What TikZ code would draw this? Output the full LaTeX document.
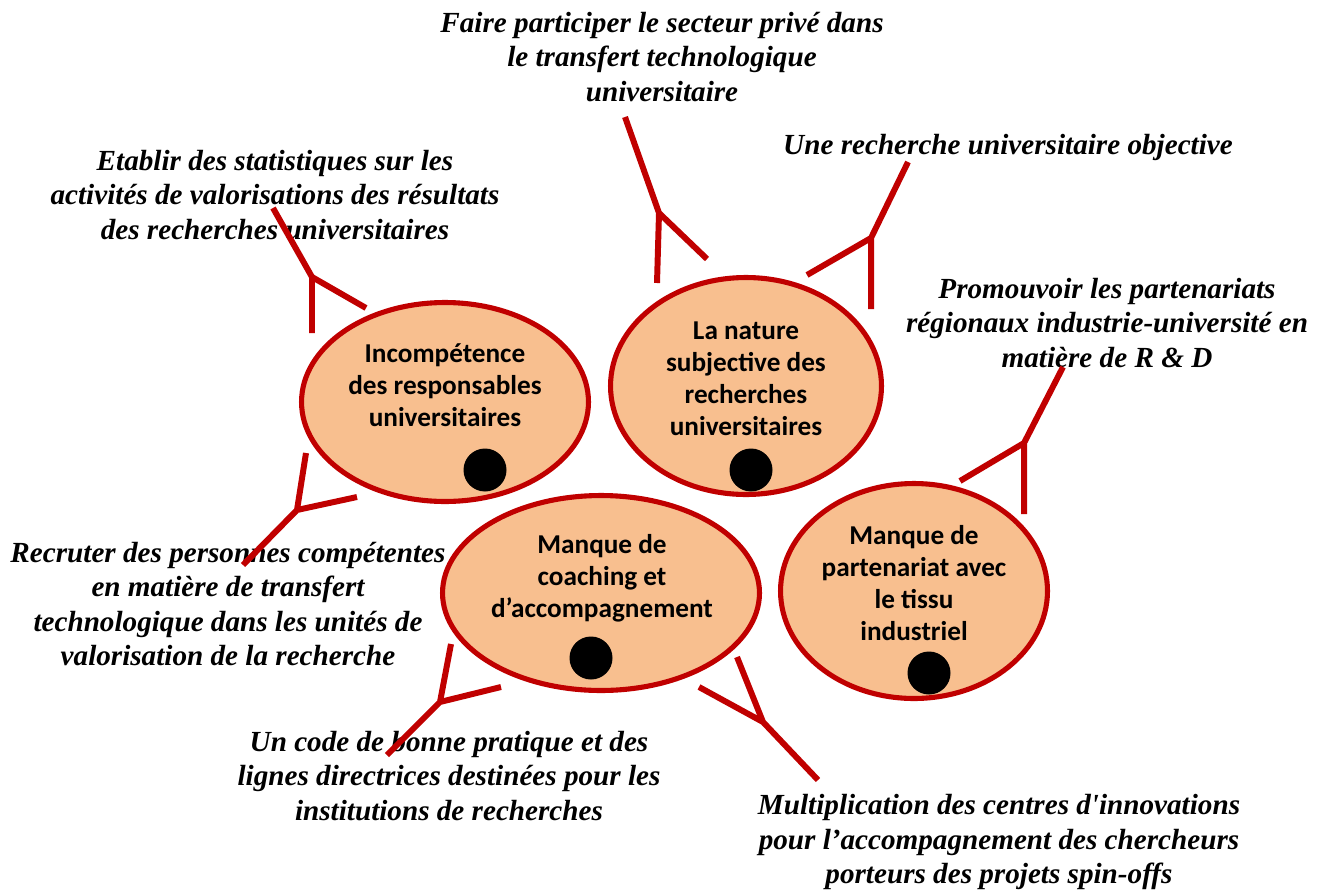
\documentclass[tikz,border=0pt]{standalone}
\usepackage{fontspec}
\setmainfont{Liberation Serif}
\newfontfamily\causefont{Carlito}
\usetikzlibrary{shapes.geometric}
\definecolor{darkred}{RGB}{192,0,0}
\definecolor{peach}{RGB}{248,191,143}
\tikzset{cause/.style={ellipse,draw=darkred,line width=2.9pt,fill=peach,inner sep=0pt},
         causetext/.style={align=center,font=\causefont\bfseries\fontsize{15.5}{18.2}\selectfont},
         remedy/.style={align=center,font=\bfseries\itshape\fontsize{16.6}{19.6}\selectfont},
         dot/.style={circle,fill=black,minimum size=.86cm,inner sep=0pt},
         fork/.style={darkred,line width=3.4pt}}

\begin{document}
\begin{tikzpicture}[x=.02cm,y=-.02cm]
  \useasboundingbox (0,0) rectangle (1324,892);
  % causes
  \node[cause,minimum width=5.74cm,minimum height=3.98cm] (c1) at (445,402) {};
  \node[cause,minimum width=5.42cm,minimum height=4.34cm] (c2) at (746,386) {};
  \node[cause,minimum width=5.34cm,minimum height=4.30cm] (c3) at (914,591) {};
  \node[cause,minimum width=6.34cm,minimum height=3.90cm] (c4) at (601,593) {};
  \node[causetext] (t1) at (445,385) {Incompétence\\des responsables\\universitaires};
  \node[causetext] (t2) at (746,379) {La nature\\subjective des\\recherches\\universitaires};
  \node[causetext] (t3) at (914,583) {Manque de\\partenariat avec\\le tissu\\industriel};
  \node[causetext] (t4) at (602,578) {Manque de\\coaching et\\d’accompagnement};
  \node[dot] (d1) at (485,470) {};
  \node[dot] (d2) at (751,470) {};
  \node[dot] (d3) at (929,673) {};
  \node[dot] (d4) at (591,658) {};
  % remedies
  \node[remedy] (r1) at (275,195) {Etablir des statistiques sur les\\activités de valorisations des résultats\\des recherches universitaires};
  \node[remedy] (r2) at (662,57) {Faire participer le secteur privé dans\\le transfert technologique\\universitaire};
  \node[remedy] (r3) at (1008,147) {Une recherche universitaire objective};
  \node[remedy] (r4) at (1107,323) {Promouvoir les partenariats\\régionaux industrie-université en\\matière de R \& D};
  \node[remedy] (r5) at (228,604) {Recruter des personnes compétentes\\en matière de transfert\\technologique dans les unités de\\valorisation de la recherche};
  \node[remedy] (r6) at (449,776) {Un code de bonne pratique et des\\lignes directrices destinées pour les\\institutions de recherches};
  \node[remedy] (r7) at (999,842) {Multiplication des centres d\textquotesingle innovations\\pour l’accompagnement des chercheurs\\porteurs des projets spin-offs};
  % forks
  \coordinate (y1) at (312,277); \coordinate (y2) at (297,510);
  \coordinate (y3) at (659,213); \coordinate (y4) at (871,238);
  \coordinate (y5) at (1024,443); \coordinate (y6) at (440,702);
  \coordinate (y7) at (763,722);
  \draw[fork] (273,208) -- (y1) -- (312,333) (y1) -- (366,308);
  \draw[fork] (243,565) -- (y2) -- (306,453) (y2) -- (357,497);
  \draw[fork] (625,117) -- (y3) -- (657,283) (y3) -- (707,259);
  \draw[fork] (908,162) -- (y4) -- (871,309) (y4) -- (807,275);
  \draw[fork] (1063,367) -- (y5) -- (1024,514) (y5) -- (960,481);
  \draw[fork] (387,755) -- (y6) -- (451,644) (y6) -- (501,687);
  \draw[fork] (818,780) -- (y7) -- (737,657) (y7) -- (699,687);
\end{tikzpicture}
\end{document}
